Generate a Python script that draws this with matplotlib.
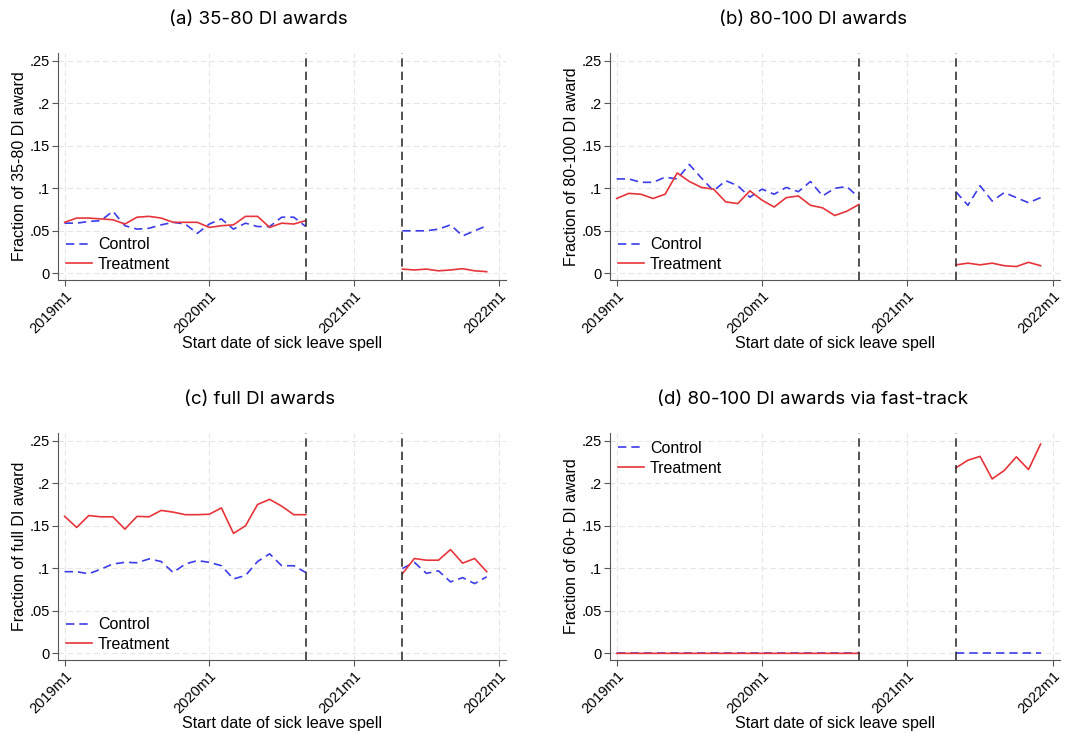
import numpy as np
import matplotlib
matplotlib.use("Agg")
import matplotlib.pyplot as plt

# months counted from 2019m1 = 0
pre_months = np.arange(0, 21)     # 2019m1 .. 2020m9
post_months = np.arange(28, 36)   # 2021m5 .. 2021m12
cutoffs = [20, 28]

tick_pos = [0, 12, 24, 36]
tick_lab = ['2019m1', '2020m1', '2021m1', '2022m1']
ytick_pos = [0, 0.05, 0.1, 0.15, 0.2, 0.25]
ytick_lab = ['0', '.05', '.1', '.15', '.2', '.25']

# (a) 35-80 DI awards
a_ctrl_pre = [.059, .059, .061, .062, .073, .056, .052, .053, .057, .060, .058,
              .047, .058, .064, .052, .059, .055, .055, .066, .066, .055]
a_treat_pre = [.060, .065, .065, .064, .063, .058, .066, .067, .065, .060, .060,
               .060, .054, .056, .057, .067, .067, .054, .059, .058, .062]
a_ctrl_post = [.050, .050, .050, .052, .057, .044, .050, .056]
a_treat_post = [.005, .004, .005, .003, .004, .0055, .003, .002]

# (b) 80-100 DI awards
b_ctrl_pre = [.111, .111, .107, .107, .113, .111, .128, .112, .097, .109, .103,
              .0895, .099, .093, .101, .096, .108, .091, .100, .102, .089]
b_treat_pre = [.088, .094, .093, .088, .093, .118, .108, .101, .099, .084, .082,
               .097, .086, .078, .089, .091, .080, .077, .068, .073, .081]
b_ctrl_post = [.096, .080, .103, .085, .095, .089, .083, .089]
b_treat_post = [.010, .012, .010, .012, .009, .008, .013, .009]

# (c) full DI awards
c_ctrl_pre = [.096, .096, .0935, .099, .105, .107, .1065, .111, .108, .095, .105,
              .109, .107, .103, .0875, .0915, .108, .117, .103, .103, .095]
c_treat_pre = [.161, .148, .162, .1605, .1605, .146, .161, .1605, .168, .166, .163,
               .163, .1635, .171, .141, .150, .175, .181, .173, .163, .163]
c_ctrl_post = [.0997, .107, .094, .097, .084, .089, .082, .090]
c_treat_post = [.0935, .1115, .1095, .1095, .122, .106, .1115, .096]

# (d) 80-100 DI awards via fast-track
d_ctrl_pre = [0.0] * 21
d_treat_pre = [0.0] * 21
d_ctrl_post = [0, 0, 0, 0, 0, 0, 0, 0]
d_treat_post = [.218, .227, .2315, .205, .215, .231, .216, .246]

panels = [
    ('(a) 35-80 DI awards', 'Fraction of 35-80 DI award',
     a_ctrl_pre, a_treat_pre, a_ctrl_post, a_treat_post, 'lower left'),
    ('(b) 80-100 DI awards', 'Fraction of 80-100 DI award',
     b_ctrl_pre, b_treat_pre, b_ctrl_post, b_treat_post, 'lower left'),
    ('(c) full DI awards', 'Fraction of full DI award',
     c_ctrl_pre, c_treat_pre, c_ctrl_post, c_treat_post, 'lower left'),
    ('(d) 80-100 DI awards via fast-track', 'Fraction of 60+ DI award',
     d_ctrl_pre, d_treat_pre, d_ctrl_post, d_treat_post, 'upper left'),
]

W, H = 1075, 736
# axes boxes in pixels: left, top, right, bottom
boxes = [(58, 53, 506, 280), (610, 53, 1060, 280),
         (58, 433, 506, 660), (610, 433, 1060, 660)]
title_xy = [(258, 20), (813, 20), (259, 400), (813, 400)]

plt.rcParams['font.family'] = ['Liberation Sans', 'DejaVu Sans']
fig = plt.figure(figsize=(W / 100, H / 100), dpi=100)

months_all = np.arange(0, 36)
blue = '#3c3ce8'
red = '#e6353a'

for (title, ylab, cpre, tpre, cpost, tpost, loc), box, txy in zip(panels, boxes, title_xy):
    l, t, r, b = box
    ax = fig.add_axes([l / W, 1 - b / H, (r - l) / W, (b - t) / H])

    ctrl = np.full(36, np.nan)
    treat = np.full(36, np.nan)
    ctrl[pre_months] = cpre
    ctrl[post_months] = cpost
    treat[pre_months] = tpre
    treat[post_months] = tpost

    ax.plot(months_all, ctrl, color=blue, lw=1.2, ls=(0, (5, 3)), label='Control')
    ax.plot(months_all, treat, color=red, lw=1.2, label='Treatment')
    for c in cutoffs:
        ax.axvline(c, color='#333333', lw=1.2, ls=(0, (5, 3)))

    ax.set_xlim(-0.55, 36.6)
    ax.set_ylim(-0.0078, 0.259)
    ax.set_xticks(tick_pos)
    ax.set_xticklabels(tick_lab, rotation=45, ha='right', rotation_mode='anchor',
                       fontsize=10.5)
    ax.set_yticks(ytick_pos)
    ax.set_yticklabels(ytick_lab, fontsize=10.5)
    ax.grid(True, color='#e6e6e6', ls=(0, (5, 3)), lw=0.8)
    ax.set_axisbelow(True)
    for s in ['top', 'right']:
        ax.spines[s].set_visible(False)
    for s in ['left', 'bottom']:
        ax.spines[s].set_color('#555555')
    ax.tick_params(colors='#555555', labelcolor='black', length=4)
    ax.tick_params(axis='x', pad=2)
    ax.tick_params(axis='y', pad=2)
    ax.set_xlabel('Start date of sick leave spell', fontsize=11.5, labelpad=0)
    ax.set_ylabel(ylab, fontsize=11.5, labelpad=2)
    ax.legend(loc=loc, frameon=False, fontsize=11.5, handlelength=1.6,
              handletextpad=0.4, borderaxespad=0.1, labelspacing=0.3)

    fig.text(txy[0] / W, 1 - txy[1] / H, title, ha='center', va='center',
             fontsize=13.5, family=['Inter', 'DejaVu Sans'])

fig.savefig('out.png', dpi=100)
